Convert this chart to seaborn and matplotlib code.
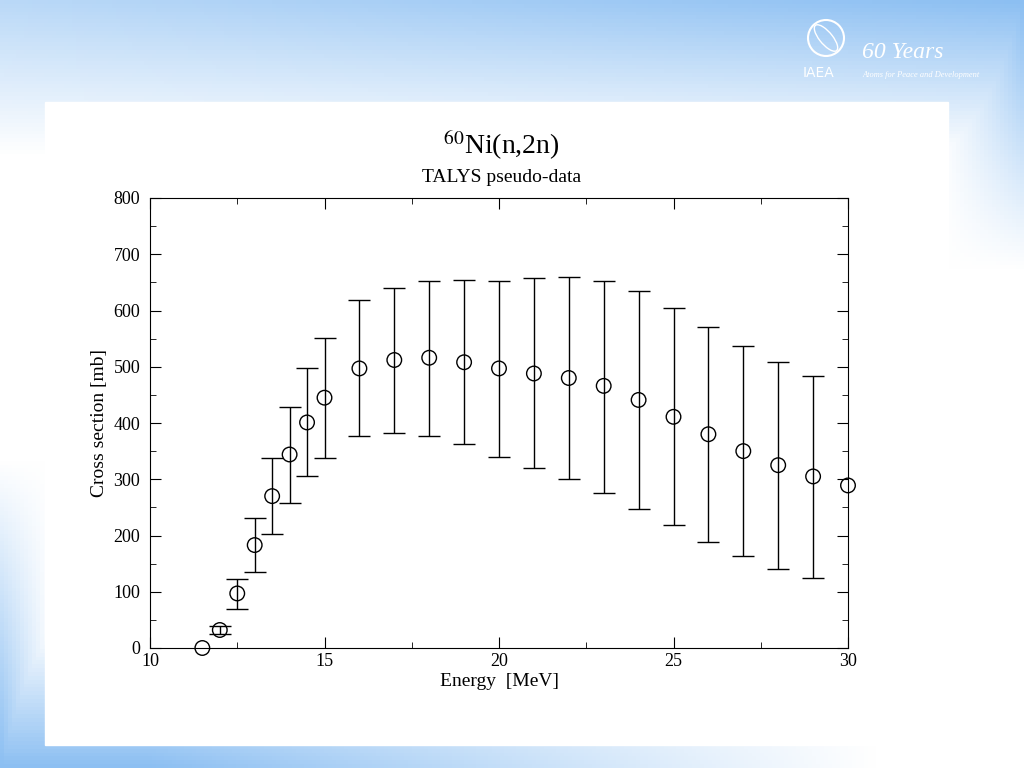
import numpy as np
import pandas as pd
import matplotlib
matplotlib.use("Agg")
import matplotlib.pyplot as plt
import seaborn as sns
from matplotlib.ticker import MultipleLocator
from matplotlib.patches import Ellipse

energy = [11.5, 12, 12.5, 13, 13.5, 14, 14.5, 15, 16, 17, 18, 19, 20, 21, 22, 23, 24, 25, 26, 27, 28, 29, 30]
xs = [0, 32, 97, 183, 270, 344, 401, 445, 497, 512, 516, 508, 497, 488, 480, 466, 441, 411, 380, 350, 325, 305, 289]
err_lo = [0, 25, 70, 135, 203, 258, 305, 337, 377, 382, 377, 362, 340, 320, 300, 276, 247, 218, 188, 164, 141, 124, 289]
err_hi = [0, 40, 122, 232, 337, 428, 498, 552, 618, 640, 653, 655, 653, 657, 660, 653, 635, 605, 570, 537, 508, 484, 289]

df = pd.DataFrame({"energy": energy, "xs": xs, "lo": err_lo, "hi": err_hi})
# points without uncertainty get no error bar
eb = df[df["hi"] > df["lo"]]

plt.rcParams["font.family"] = "Liberation Serif"
fig = plt.figure(figsize=(10.24, 7.68), dpi=100)

# slide background
bg = fig.add_axes([0, 0, 1, 1], zorder=-2)
h, w = 200, 256
yy, xx = np.mgrid[0:1:h*1j, 0:1:w*1j]
top = np.clip(1 - yy / 0.2, 0, 1) * (0.6 + 0.4 * xx)
bot = np.clip((yy - 0.82) / 0.18, 0, 1) * np.clip(1.2 - xx * 1.4, 0, 1)
left = np.clip(1 - xx / 0.05, 0, 1) * np.clip((yy - 0.6) / 0.4, 0, 1)
right = np.clip((xx - 0.92) / 0.08, 0, 1) * np.clip(1 - yy / 0.35, 0, 1)
s = np.clip(np.maximum.reduce([top, bot, left, right]), 0, 1)
white = np.array([1, 1, 1])
blue = np.array([0.55, 0.75, 0.95])
img = white[None, None, :] * (1 - s[..., None]) + blue[None, None, :] * s[..., None]
bg.imshow(img, aspect="auto", extent=[0, 1, 0, 1], origin="upper")
bg.add_patch(plt.Rectangle((45/1024, 1-745/768), 903/1024, 643/768, color="white"))
bg.set_xlim(0, 1); bg.set_ylim(0, 1); bg.axis("off")
bg.add_patch(Ellipse((826/1024, 1-38/768), 36/1024, 36/768, fill=False, ec="white", lw=1.5))
bg.add_patch(Ellipse((826/1024, 1-38/768), 14/1024, 30/768, angle=30, fill=False, ec="white", lw=1))
bg.text(862/1024, 1-58/768, "60 Years", color="white", style="italic", fontsize=17)
bg.text(803/1024, 1-77/768, "IAEA", color="white", fontsize=10, family="DejaVu Sans")
bg.text(862/1024, 1-77/768, "Atoms for Peace and Development", color="white", style="italic", fontsize=6)

ax = fig.add_axes([150/1024, 1-648/768, 698/1024, 450/768])
ax.errorbar(eb["energy"], eb["xs"], yerr=[eb["xs"] - eb["lo"], eb["hi"] - eb["xs"]],
            fmt="none", ecolor="black", elinewidth=1, capsize=8, capthick=1)
sns.scatterplot(data=df, x="energy", y="xs", ax=ax, marker="o", s=110,
                facecolor="none", edgecolor="black", linewidth=1, zorder=3, clip_on=False)
ax.set_xlim(10, 30); ax.set_ylim(0, 800)
ax.xaxis.set_major_locator(MultipleLocator(5)); ax.xaxis.set_minor_locator(MultipleLocator(2.5))
ax.yaxis.set_major_locator(MultipleLocator(100)); ax.yaxis.set_minor_locator(MultipleLocator(50))
ax.tick_params(which="both", direction="in", top=True, right=True, labelsize=13)
ax.tick_params(axis="y", pad=7)
ax.tick_params(which="major", length=8)
ax.tick_params(which="minor", length=4)
ax.set_xlabel("Energy  [MeV]", fontsize=14, labelpad=2)
ax.set_ylabel("Cross section [mb]", fontsize=14)
fig.text(0.49, 1-145/768, r"$^{60}$Ni(n,2n)", ha="center", va="center", fontsize=20, math_fontfamily="stix")
fig.text(0.49, 1-177/768, "TALYS pseudo-data", ha="center", va="center", fontsize=14)

fig.savefig("out.png", dpi=100)
